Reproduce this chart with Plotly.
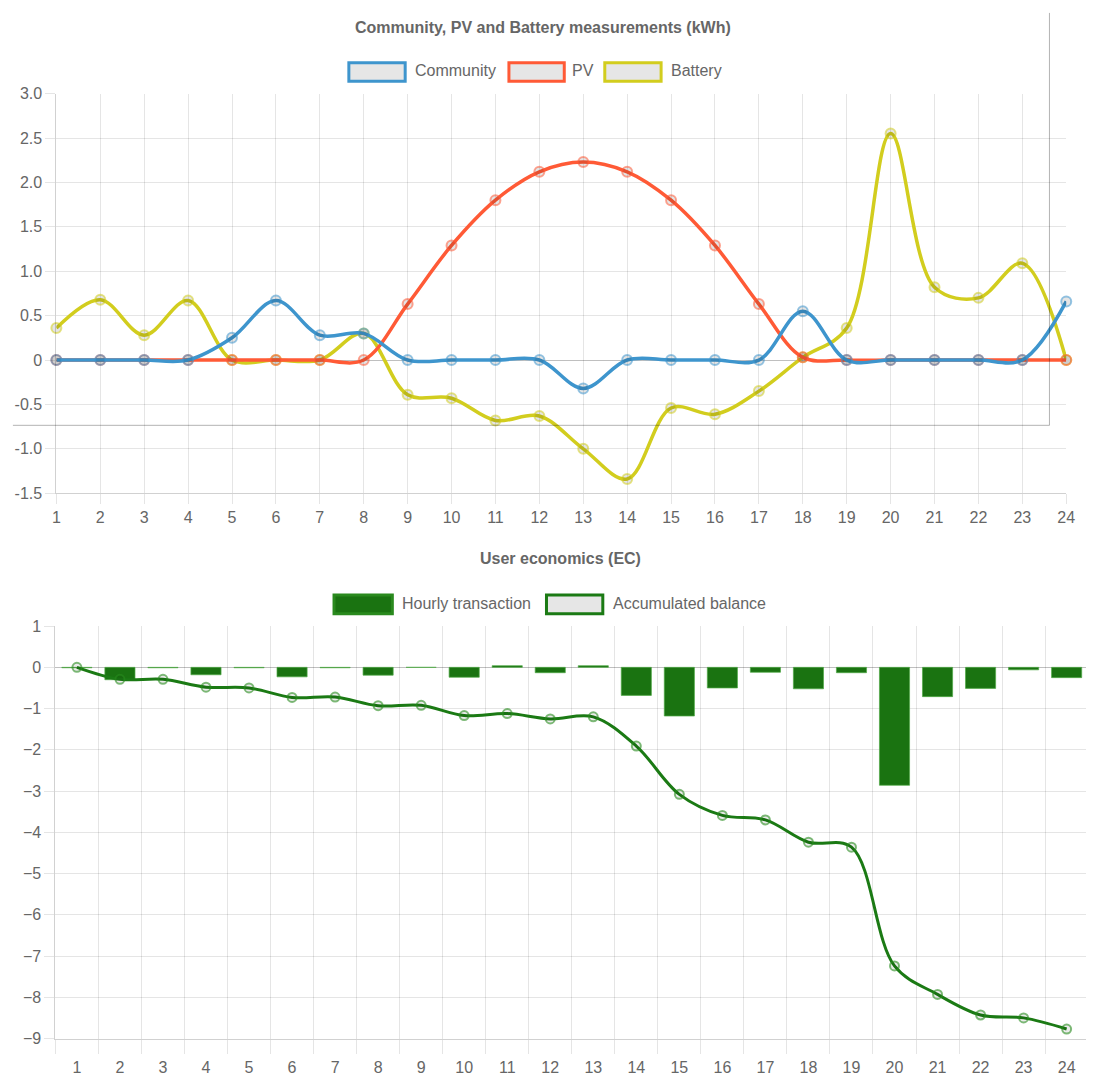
import plotly.graph_objects as go

W, H = 1095, 1079

# ---- data -------------------------------------------------------------
hours = list(range(1, 25))
hour_labels = [str(h) for h in hours]

community = [0, 0, 0, 0, 0.25, 0.67, 0.28, 0.30, 0, 0, 0, 0,
             -0.32, 0, 0, 0, 0, 0.55, 0, 0, 0, 0, 0, 0.66]
pv = [0, 0, 0, 0, 0, 0, 0, 0, 0.63, 1.29, 1.80, 2.12,
      2.23, 2.12, 1.80, 1.29, 0.63, 0.03, 0, 0, 0, 0, 0, 0]
battery = [0.36, 0.68, 0.28, 0.67, 0, 0, 0, 0.30, -0.39, -0.43, -0.68, -0.63,
           -1.0, -1.34, -0.54, -0.61, -0.35, 0.03, 0.36, 2.55, 0.82, 0.70, 1.09, 0]

hourly_transaction = [-0.01, -0.30, -0.01, -0.18, -0.01, -0.23, -0.01, -0.19, 0, -0.24, 0.04, -0.13,
                      0.04, -0.68, -1.18, -0.50, -0.12, -0.52, -0.13, -2.86, -0.71, -0.51, -0.06, -0.25]
accumulated_balance = [0, -0.29, -0.29, -0.48, -0.50, -0.73, -0.72, -0.93, -0.92, -1.17, -1.12, -1.25,
                       -1.20, -1.91, -3.08, -3.59, -3.70, -4.24, -4.36, -7.24, -7.93, -8.43, -8.50, -8.77]

energy_ticks = [-1.5, -1.0, -0.5, 0, 0.5, 1.0, 1.5, 2.0, 2.5, 3.0]
energy_tick_text = ["-1.5", "-1.0", "-0.5", "0", "0.5", "1.0", "1.5", "2.0", "2.5", "3.0"]
money_ticks = list(range(-9, 2))

# ---- style ------------------------------------------------------------
FONT = "Liberation Sans, Arial, Helvetica, sans-serif"
TXT = "#666666"
GRID = "rgba(0,0,0,0.1)"
ZERO = "rgba(0,0,0,0.25)"
BLUE = "#3e95cd"
RED = "#ff5a36"
YELLOW = "#d2cd1e"
GREEN = "#1a7311"
LINE_GREEN = "#1b7a14"


def fx(p):
    return p / W


def fy(p):
    return 1 - p / H


fig = go.Figure()

# Energy chart: drawn back to front so Community sits on top
for name, vals, col, rgba in [
    ("Battery", battery, YELLOW, "rgba(210,205,30,0.55)"),
    ("PV", pv, RED, "rgba(255,90,54,0.55)"),
    ("Community", community, BLUE, "rgba(62,149,205,0.55)"),
]:
    fig.add_trace(go.Scatter(
        x=hours, y=vals, name=name, mode="lines+markers",
        line=dict(color=col, width=3.5, shape="spline", smoothing=1.0),
        marker=dict(size=10, color="rgba(0,0,0,0.1)", line=dict(color=rgba, width=2)),
        cliponaxis=False, showlegend=False, xaxis="x", yaxis="y",
    ))

# Economics chart
fig.add_trace(go.Bar(
    x=hours, y=hourly_transaction, name="Hourly transaction", width=0.7,
    marker=dict(color=GREEN, line=dict(color="rgba(80,170,70,0.7)", width=1)),
    showlegend=False, xaxis="x2", yaxis="y2",
))
fig.add_trace(go.Scatter(
    x=hours, y=accumulated_balance, name="Accumulated balance", mode="lines+markers",
    line=dict(color=LINE_GREEN, width=3, shape="spline", smoothing=1.0),
    marker=dict(size=9, color="rgba(0,0,0,0.08)", line=dict(color="rgba(40,140,30,0.6)", width=2)),
    cliponaxis=False, showlegend=False, xaxis="x2", yaxis="y2",
))

tickfont = dict(family=FONT, size=16, color=TXT)

fig.update_layout(
    width=W, height=H,
    margin=dict(l=0, r=0, t=0, b=0),
    paper_bgcolor="white", plot_bgcolor="white",
    font=dict(family=FONT, color=TXT, size=16),
    bargap=0.3,
    xaxis=dict(
        domain=[fx(53), fx(1075)], range=[1, 24],
        tickmode="array", tickvals=hours, ticktext=hour_labels,
        showgrid=True, gridcolor=GRID, gridwidth=1,
        ticks="outside", ticklen=10, tickcolor=GRID,
        showline=True, linecolor="rgba(0,0,0,0.18)", linewidth=1,
        zeroline=False, tickfont=tickfont, anchor="y",
    ),
    yaxis=dict(
        domain=[fy(493), fy(87)], range=[-1.5, 3.0],
        tickmode="array", tickvals=energy_ticks, ticktext=energy_tick_text,
        showgrid=True, gridcolor=GRID, gridwidth=1,
        ticks="outside", ticklen=10, tickcolor=GRID,
        showline=True, linecolor="rgba(0,0,0,0.18)", linewidth=1,
        zeroline=True, zerolinecolor=ZERO, zerolinewidth=1,
        tickfont=tickfont, anchor="x",
    ),
    xaxis2=dict(
        domain=[fx(52), 1.0], range=[0.5, 24.45],
        tickmode="array", tickvals=hours, ticktext=hour_labels,
        showgrid=False,
        ticks="outside", ticklen=14, tickcolor="rgba(0,0,0,0)",
        minor=dict(tickmode="linear", tick0=0.5, dtick=1, showgrid=True,
                   gridcolor=GRID, ticks="outside", ticklen=14, tickcolor=GRID),
        showline=True, linecolor="rgba(0,0,0,0.18)", linewidth=1,
        zeroline=False, tickfont=tickfont, anchor="y2",
    ),
    yaxis2=dict(
        domain=[fy(1047), fy(628)], range=[-9, 1],
        tickmode="array", tickvals=money_ticks,
        showgrid=True, gridcolor=GRID, gridwidth=1,
        ticks="outside", ticklen=10, tickcolor=GRID,
        showline=True, linecolor="rgba(0,0,0,0.18)", linewidth=1,
        zeroline=True, zerolinecolor=ZERO, zerolinewidth=1,
        tickfont=tickfont, anchor="x2",
    ),
)

shapes = []
annotations = []

# Titles
annotations.append(dict(x=fx(545), y=fy(19.5), xref="paper", yref="paper", showarrow=False,
                        xanchor="center", yanchor="middle",
                        text="<b>Community, PV and Battery measurements (kWh)</b>",
                        font=dict(family=FONT, size=16, color=TXT)))
annotations.append(dict(x=fx(563), y=fy(559), xref="paper", yref="paper", showarrow=False,
                        xanchor="center", yanchor="middle",
                        text="<b>User economics (EC)</b>",
                        font=dict(family=FONT, size=16, color=TXT)))


def legend_item(x0, x1, yc, fill, border, label, tx):
    shapes.append(dict(type="rect", xref="paper", yref="paper",
                       x0=fx(x0), x1=fx(x1), y0=fy(yc + 9.5), y1=fy(yc - 9.5),
                       fillcolor=fill, line=dict(color=border, width=3)))
    annotations.append(dict(x=fx(tx), y=fy(yc - 1), xref="paper", yref="paper", showarrow=False,
                            xanchor="left", yanchor="middle", text=label,
                            font=dict(family=FONT, size=16, color=TXT)))


legend_item(349, 406, 65, "#e6e6e6", BLUE, "Community", 414)
legend_item(511, 567, 65, "#e6e6e6", RED, "PV", 573)
legend_item(608, 665, 65, "#e6e6e6", YELLOW, "Battery", 673)
legend_item(334, 393, 606, GREEN, "#2a8a1e", "Hourly transaction", 401)
legend_item(549, 606, 606, "#e6e6e6", LINE_GREEN, "Accumulated balance", 614)

# Outline frame around the upper panel area
shapes.append(dict(type="line", xref="paper", yref="paper",
                   x0=fx(1058), x1=fx(1058), y0=fy(5), y1=fy(424),
                   line=dict(color="rgba(0,0,0,0.3)", width=1)))
shapes.append(dict(type="line", xref="paper", yref="paper",
                   x0=fx(9), x1=fx(1058), y0=fy(424), y1=fy(424),
                   line=dict(color="rgba(0,0,0,0.3)", width=1)))

fig.update_layout(shapes=shapes, annotations=annotations)

fig.write_html("out.html")
